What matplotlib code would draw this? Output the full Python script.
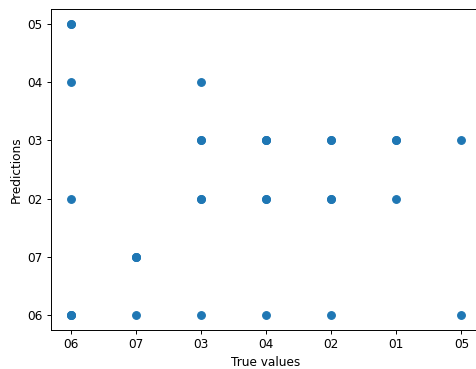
import matplotlib
matplotlib.use("Agg")
import matplotlib.pyplot as plt

# true / predicted labels, in order of first appearance (sets the category order)
true_vals = ["06", "06", "06", "07", "07", "07", "03", "03", "04", "04", "04",
             "02", "02", "06", "06", "06", "01", "01", "05",
             "06", "07", "03", "03", "03", "03", "04", "04", "04",
             "02", "02", "02", "01", "05"]
pred_vals = ["06", "06", "06", "07", "07", "07", "02", "02", "03", "03", "03",
             "03", "03", "04", "05", "05", "03", "03", "03",
             "02", "06", "04", "03", "03", "06", "02", "02", "06",
             "02", "02", "06", "02", "06"]

dpi = 87
fig = plt.figure(figsize=(477/dpi, 369/dpi), dpi=dpi)
ax = fig.add_axes([51/477, 1-330/369, (481-51)/477, (330-9)/369])
ax.scatter(true_vals, pred_vals, s=40)
ax.set_xlabel("True values")
ax.set_ylabel("Predictions")

fig.savefig("out.png", dpi=dpi)
